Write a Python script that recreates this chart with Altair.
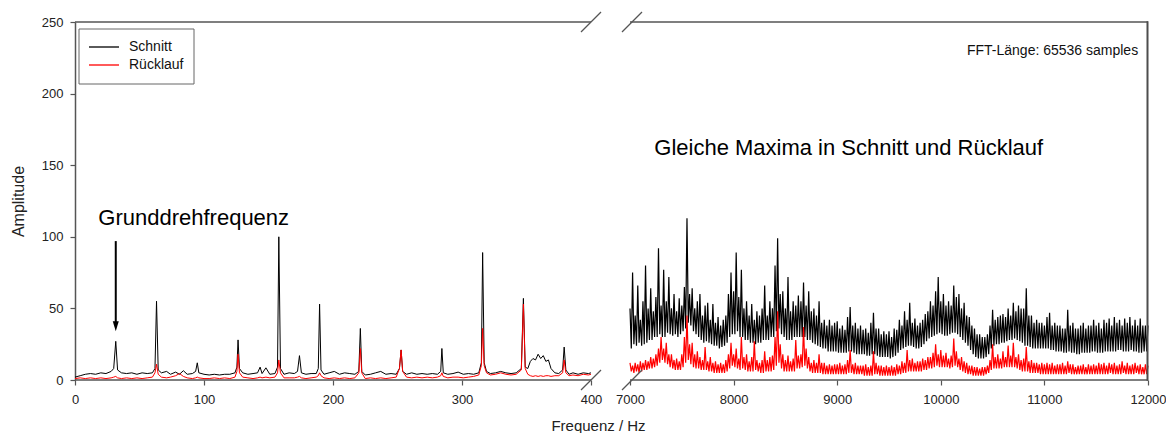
import altair as alt
import pandas as pd

# ---------------- data ----------------
series_names = ["Schnitt", "Rücklauf"]
series_colors = ["#000000", "#ff0000"]

left_freq = [0, 4, 8, 12, 16, 20, 24, 28, 30, 31.6,
             33, 36, 40, 44, 48, 52, 56, 60, 62, 63.2,
             64.5, 67, 71, 74, 78, 81, 84, 87, 91, 93.5,
             94.8, 96, 100, 104, 108, 112, 116, 120, 124, 125.5,
             126.4, 127.5, 130, 134, 138, 141.5, 143.5, 145, 148, 151,
             155, 157, 158, 159.3, 162, 166, 170, 172.5, 174, 175.5,
             179, 183, 187, 188.6, 189.6, 190.7, 193, 197, 201, 205,
             209, 213, 217, 220, 221.2, 222.3, 225, 229, 233, 237,
             241, 245, 249, 251.5, 252.8, 254, 257, 261, 265, 269,
             273, 277, 281, 283.5, 284.4, 285.5, 289, 293, 297, 301,
             305, 309, 313, 315, 316, 317.2, 319, 322, 326, 330,
             334, 338, 342, 346, 347.6, 349, 351, 353, 355, 357,
             359, 361, 363, 365, 367, 369, 372, 375, 378, 379.2,
             380.5, 383, 386, 390, 394, 398, 400]

left_schnitt = [2, 3, 4, 4.5, 4, 5, 4.5, 6, 8, 27,
                7, 5, 4.5, 5, 4, 5, 4.5, 5, 8, 55,
                7, 5, 6, 4, 5.5, 4, 6.5, 4, 4.5, 6,
                12, 5, 4, 3.5, 4, 3.5, 4, 4, 5, 9,
                28, 8, 5, 4, 4.5, 5, 9, 4.5, 8.5, 4,
                4.5, 9, 100, 8, 4, 5, 4.5, 6, 17, 5,
                4, 4.5, 4.5, 8, 53, 7, 4, 5, 6, 4,
                5, 4.5, 4, 6, 36, 6, 3.5, 4, 5, 6,
                4, 4.5, 4, 8, 21, 6, 4, 5, 4, 4.5,
                4, 4.5, 4, 6, 22, 5, 4, 4.5, 5.5, 4,
                4.5, 4, 5, 12, 89, 12, 6, 4.5, 5, 6,
                5, 4.5, 5, 8, 57, 9, 8, 13, 15, 14,
                18, 15, 17, 13, 14, 8, 5, 4.5, 7, 23,
                7, 4, 5, 4, 5, 4.5, 5]

left_ruecklauf = [1, 1.5, 1, 1.5, 1, 1.5, 1, 1.5, 2, 2.5,
                  1.5, 1, 1.5, 1, 1.5, 1, 1.5, 2, 5, 11,
                  4, 2, 1.5, 2, 3, 4.5, 2.5, 1.5, 1, 1.5,
                  2, 1.5, 1, 1, 1.5, 1, 1.5, 1, 2, 6,
                  18, 5, 2, 1.5, 1, 1.5, 2, 1.5, 2, 1.5,
                  2, 5, 14, 5, 1.5, 1.5, 1.5, 2, 2.5, 1.5,
                  1, 1.5, 2, 3, 5, 3, 1.5, 1, 1.5, 1,
                  1.5, 1, 1.5, 5, 22, 5, 1, 1.5, 1, 1.5,
                  1, 1.5, 2, 8, 21, 6, 2, 1.5, 2, 1.5,
                  2, 1.5, 2, 3, 5, 2.5, 1.5, 2, 2, 1.5,
                  2, 2.5, 3.5, 10, 36, 10, 5, 3.5, 4, 5,
                  4, 3.5, 4, 7, 53, 8, 4, 3, 2.5, 3,
                  2.5, 3, 2.5, 3, 3, 2.5, 3, 3, 5, 14,
                  5, 3, 3.5, 3, 4, 3.5, 4]

# Right part: dense noisy spectrum, read as alternating local maxima (every 25 Hz,
# 7000..12000) and local minima (half-way between, 7012.5..11987.5).
right_freq_hi = list(range(7000, 12001, 25))
right_freq_lo = [f + 12.5 for f in range(7000, 12000, 25)]

right_schnitt_hi = [
    50, 75, 45, 66, 42, 55, 80, 50, 64, 48, 58, 92, 52, 77, 55, 72, 50, 60, 48, 57,
    52, 65, 113, 60, 64, 50, 55, 60, 45, 52, 54, 42, 53, 40, 44, 38, 42, 45, 60, 75,
    62, 89, 58, 77, 50, 55, 45, 53, 42, 48, 45, 50, 66, 45, 55, 50, 80, 99, 60, 62,
    50, 72, 48, 55, 52, 59, 55, 68, 52, 62, 48, 50, 45, 55, 40, 42, 38, 42, 38, 40,
    41, 36, 38, 35, 44, 51, 38, 40, 36, 38, 35, 36, 33, 40, 47, 36, 36, 32, 34, 32,
    34, 30, 36, 35, 42, 38, 48, 42, 54, 40, 43, 38, 40, 42, 46, 48, 55, 52, 62, 72,
    55, 60, 52, 55, 52, 66, 58, 60, 50, 54, 45, 44, 38, 36, 32, 32, 30, 30, 32, 38,
    49, 42, 44, 45, 46, 44, 50, 45, 54, 48, 52, 50, 50, 64, 45, 45, 40, 42, 40, 40,
    38, 44, 47, 38, 40, 38, 38, 36, 36, 49, 38, 40, 36, 36, 38, 40, 36, 38, 38, 42,
    38, 40, 36, 42, 40, 43, 38, 44, 40, 42, 38, 43, 40, 44, 38, 42, 38, 43, 38, 38,
    38]

right_schnitt_lo = [
    22, 25, 24, 26, 24, 25, 26, 28, 28, 30, 30, 32, 30, 30, 33, 32, 31, 32, 30, 32,
    34, 36, 40, 38, 34, 32, 30, 28, 26, 27, 26, 25, 24, 24, 22, 23, 24, 26, 30, 32,
    32, 34, 30, 30, 28, 28, 26, 26, 25, 26, 26, 28, 28, 28, 30, 30, 34, 36, 32, 30,
    28, 28, 28, 30, 30, 30, 30, 30, 28, 28, 26, 25, 24, 23, 22, 22, 20, 20, 20, 20,
    19, 19, 19, 19, 20, 20, 19, 18, 18, 18, 18, 17, 17, 18, 18, 17, 16, 16, 16, 16,
    15, 16, 17, 19, 21, 22, 23, 24, 24, 23, 22, 22, 23, 25, 27, 29, 30, 31, 32, 33,
    32, 31, 31, 32, 33, 33, 32, 30, 28, 26, 24, 21, 18, 16, 15, 15, 15, 16, 18, 22,
    24, 25, 25, 26, 26, 27, 28, 28, 29, 28, 27, 26, 24, 24, 23, 22, 22, 22, 22, 22,
    22, 22, 21, 21, 20, 20, 20, 19, 19, 20, 19, 19, 18, 18, 19, 19, 19, 19, 20, 20,
    19, 19, 19, 20, 20, 20, 20, 20, 21, 21, 20, 20, 20, 21, 20, 20, 19, 19, 20, 20]

right_ruecklauf_hi = [
    12, 10, 12, 11, 13, 12, 14, 13, 16, 15, 18, 22, 30, 22, 26, 18, 18, 14, 15, 13,
    18, 30, 45, 25, 26, 18, 20, 16, 14, 23, 13, 16, 12, 13, 11, 12, 11, 14, 18, 26,
    18, 22, 15, 30, 16, 18, 13, 16, 27, 14, 12, 14, 20, 14, 16, 17, 30, 48, 25, 18,
    14, 17, 13, 15, 28, 17, 18, 37, 22, 16, 12, 14, 12, 18, 12, 12, 10, 11, 10, 11,
    11, 12, 10, 11, 14, 21, 11, 12, 10, 10, 10, 11, 9, 10, 20, 12, 10, 10, 9, 10,
    9, 10, 9, 11, 10, 13, 12, 21, 14, 15, 12, 13, 13, 15, 14, 16, 16, 19, 25, 18,
    21, 17, 19, 15, 17, 29, 20, 15, 16, 13, 12, 10, 10, 9, 9, 8, 9, 9, 10, 14,
    25, 16, 18, 15, 20, 16, 24, 17, 26, 16, 18, 14, 15, 23, 13, 14, 12, 12, 11, 12,
    11, 12, 11, 12, 10, 11, 11, 12, 10, 13, 11, 11, 9, 10, 10, 11, 9, 11, 10, 11,
    10, 12, 11, 12, 10, 12, 11, 12, 10, 11, 13, 10, 12, 10, 11, 12, 10, 11, 9, 11,
    10]

right_ruecklauf_lo = [
    6, 5, 6, 5, 6, 7, 7, 8, 8, 9, 10, 12, 14, 12, 11, 9, 8, 7, 7, 7,
    9, 12, 14, 11, 9, 8, 8, 7, 7, 7, 6, 6, 5, 5, 5, 5, 5, 6, 8, 10,
    9, 8, 7, 8, 7, 6, 6, 6, 7, 6, 5, 5, 6, 6, 6, 7, 10, 12, 8, 6,
    6, 6, 6, 6, 8, 8, 9, 10, 8, 6, 5, 5, 5, 5, 4, 4, 4, 4, 4, 4,
    4, 4, 4, 4, 5, 5, 4, 4, 4, 4, 3, 3, 3, 3, 4, 4, 3, 3, 3, 3,
    3, 3, 3, 4, 4, 5, 5, 6, 6, 6, 6, 6, 6, 7, 7, 8, 8, 9, 10, 9,
    9, 9, 9, 8, 9, 10, 9, 7, 6, 5, 4, 4, 3, 3, 3, 3, 3, 4, 5, 7,
    8, 8, 8, 8, 9, 9, 9, 9, 9, 8, 7, 6, 6, 6, 5, 5, 5, 5, 4, 4,
    4, 4, 4, 4, 4, 4, 4, 4, 4, 5, 4, 4, 4, 4, 4, 4, 4, 4, 4, 4,
    4, 4, 4, 4, 4, 5, 4, 4, 4, 4, 5, 4, 4, 4, 4, 5, 4, 4, 4, 4]

x_ticks = [0, 100, 200, 300, 400, 7000, 8000, 9000, 10000, 11000, 12000]
y_ticks = [0, 50, 100, 150, 200, 250]

# annotations (data coordinates)
ann_left = pd.DataFrame({"f": [92], "amp": [113], "label": ["Grunddrehfrequenz"]})
arrow = pd.DataFrame({"f": [31.6], "top": [97], "tip": [37.5]})
ann_right = pd.DataFrame({"f": [9111], "amp": [162], "label": ["Gleiche Maxima in Schnitt und Rücklauf"]})
ann_fft = pd.DataFrame({"f": [11905], "amp": [230], "label": ["FFT-Länge: 65536 samples"]})

# frame of the broken axis (data coordinates)
frame_h = pd.DataFrame({"f": [0, 7000, 0, 7000], "f2": [400, 12000, 400, 12000],
                        "amp": [0, 0, 250, 250]})

# ---------------- build ----------------
FONT = "Liberation Sans"
AXC = "#555555"
W, H = 1073, 358
BRK_L, BRK_R = 516, 557  # pixel positions of the axis break marks

xscale = alt.Scale(domain=[0, 400, 7000, 12000], range=[0, 516, 555, W], nice=False, zero=False)
yscale = alt.Scale(domain=[0, 250], nice=False)

X = alt.X("f:Q", scale=xscale,
          axis=alt.Axis(values=x_ticks, format="d", labelFlush=False, domain=False,
                        title="Frequenz / Hz", titleX=523, titleY=45, titleAlign="center",
                        titleBaseline="middle", titleFontSize=15, titleFontWeight="normal",
                        grid=False, labelPadding=8, tickSize=5))
Y = alt.Y("amp:Q", scale=yscale,
          axis=alt.Axis(values=y_ticks, title="Amplitude", titleFontSize=16,
                        titleFontWeight="normal", titleX=-57, titleY=179, titleAngle=-90,
                        titleAlign="center", titleBaseline="middle", grid=False,
                        labelPadding=7, tickSize=5, domain=True))


def long_df(freq, a, b):
    return pd.DataFrame({
        "f": list(freq) * 2,
        "amp": list(a) + list(b),
        "series": [series_names[0]] * len(freq) + [series_names[1]] * len(freq),
    })


left_df = long_df(left_freq, left_schnitt, left_ruecklauf)
right_df = pd.concat([
    long_df(right_freq_hi, right_schnitt_hi, right_ruecklauf_hi),
    long_df(right_freq_lo, right_schnitt_lo, right_ruecklauf_lo),
]).sort_values("f").reset_index(drop=True)

layers = []
for df, sw in ((left_df, 1.0), (right_df, 1.2)):
    for name, col in zip(series_names, series_colors):
        layers.append(
            alt.Chart(df).transform_filter(alt.datum.series == name)
            .mark_line(strokeWidth=sw, color=col).encode(x=X, y=Y)
        )

# frame lines
layers.append(alt.Chart(frame_h).mark_rule(color=AXC, strokeWidth=1.5).encode(
    x=alt.X("f:Q", scale=xscale), x2="f2:Q", y=alt.Y("amp:Q", scale=yscale)))

one = pd.DataFrame({"a": [0]})
# right border of the plot frame (thin filled bar, drawn over the data end)
layers.append(alt.Chart(one).mark_rect(color="#4d4d4d", opacity=1).encode(
    x=alt.value(W - 1.5), x2=alt.value(W + 0.5), y=alt.value(-0.75), y2=alt.value(H + 0.75)))
for bx in (BRK_L, BRK_R):
    for by in (0, H):
        layers.append(alt.Chart(one).mark_rule(color=AXC, strokeWidth=1.2).encode(
            x=alt.value(bx - 10), x2=alt.value(bx + 10),
            y=alt.value(by + 10), y2=alt.value(by - 10)))

# annotations
layers.append(alt.Chart(ann_left).mark_text(fontSize=22, font=FONT, color="black",
                                            align="center", baseline="middle").encode(
    x=alt.X("f:Q", scale=xscale), y=alt.Y("amp:Q", scale=yscale), text="label:N"))
layers.append(alt.Chart(arrow).mark_rule(strokeWidth=2, color="black").encode(
    x=alt.X("f:Q", scale=xscale), y=alt.Y("top:Q", scale=yscale), y2="tip:Q"))
layers.append(alt.Chart(arrow).mark_point(shape="M-0.6,-1L0.6,-1L0,1Z", filled=True, size=100,
                                          color="black", opacity=1).encode(
    x=alt.X("f:Q", scale=xscale), y=alt.Y("tip:Q", scale=yscale)))
layers.append(alt.Chart(ann_right).mark_text(fontSize=22, font=FONT, color="black",
                                             align="center", baseline="middle").encode(
    x=alt.X("f:Q", scale=xscale), y=alt.Y("amp:Q", scale=yscale), text="label:N"))
layers.append(alt.Chart(ann_fft).mark_text(fontSize=14, font=FONT, color="#111",
                                           align="right", baseline="middle").encode(
    x=alt.X("f:Q", scale=xscale), y=alt.Y("amp:Q", scale=yscale), text="label:N"))

# legend box (top-left)
layers.append(alt.Chart(one).mark_rect(fill="white", stroke="#666", strokeWidth=1).encode(
    x=alt.value(4), x2=alt.value(119), y=alt.value(7), y2=alt.value(62)))
for i, (name, col) in enumerate(zip(series_names, series_colors)):
    yy = 25 + 18 * i
    layers.append(alt.Chart(one).mark_rule(color=col, strokeWidth=1.3).encode(
        x=alt.value(14), x2=alt.value(44), y=alt.value(yy)))
    layers.append(alt.Chart(one).mark_text(text=name, fontSize=14, font=FONT, color="#111",
                                           align="left", baseline="middle").encode(
        x=alt.value(54), y=alt.value(yy)))

chart = alt.layer(*layers).properties(
    width=W, height=H,
    padding={"left": 67, "top": 14, "right": 18, "bottom": 53},
    autosize=alt.AutoSizeParams(type="none"),
).configure(font=FONT).configure_view(stroke=None).configure_axis(
    domainColor=AXC, domainWidth=1.5, tickColor=AXC, tickWidth=1.2,
    labelFontSize=13, labelColor="#222", labelFont=FONT,
    titleColor="#222", titleFont=FONT,
)

chart.save("out.html", embed_options={"renderer": "svg", "actions": False})
